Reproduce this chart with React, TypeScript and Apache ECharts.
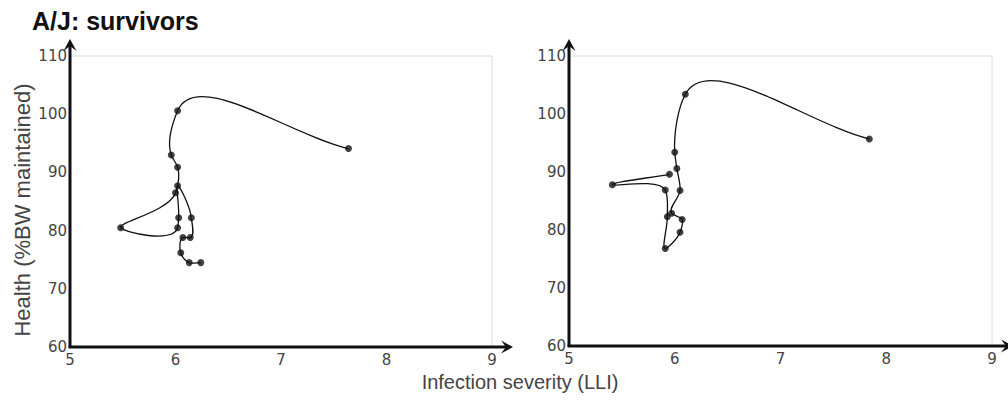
import React, { useEffect, useRef } from "react";
import * as echarts from "echarts";

const TITLE = "A/J: survivors";
const X_TITLE = "Infection severity (LLI)";
const Y_TITLE = "Health (%BW maintained)";
const X_MIN = 5;
const X_MAX = 9;
const X_STEP = 1;
const Y_MIN = 60;
const Y_MAX = 110;
const Y_STEP = 10;

// Panel 1 trajectory (in drawing order)
const leftLLI = [7.64, 6.02, 5.96, 6.02, 6.0, 5.48, 6.02, 6.03, 6.02, 6.15, 6.14, 6.07, 6.05, 6.13, 6.24];
const leftHealth = [94.1, 100.6, 93.0, 90.9, 86.5, 80.5, 80.5, 82.2, 87.7, 82.2, 78.8, 78.8, 76.2, 74.5, 74.5];

// Panel 2 trajectory (in drawing order)
const rightLLI = [7.84, 6.1, 6.0, 6.02, 6.05, 5.97, 6.07, 6.05, 5.91, 5.93, 5.91, 5.41, 5.95];
const rightHealth = [95.7, 103.4, 93.4, 90.6, 86.8, 82.9, 81.8, 79.6, 76.8, 82.3, 86.9, 87.8, 89.6];

const INK = "#111";
const LABEL = "#444";

function zip(xs: number[], ys: number[]) {
  return xs.map((x, i) => [x, ys[i]]);
}

function makeRenderItem(points: number[][]) {
  return (params: any, api: any) => {
    const i = params.dataIndex;
    if (i >= points.length - 1) return { type: "group", children: [] };
    const P = points.map((p) => api.coord(p) as number[]);
    const n = P.length;
    const dist = (a: number[], b: number[]) => Math.hypot(b[0] - a[0], b[1] - a[1]) || 1e-6;
    const tangent = (k: number) => {
      if (k === 0) {
        const d = dist(P[0], P[1]);
        return [(P[1][0] - P[0][0]) / d, (P[1][1] - P[0][1]) / d];
      }
      if (k === n - 1) {
        const d = dist(P[n - 2], P[n - 1]);
        return [(P[n - 1][0] - P[n - 2][0]) / d, (P[n - 1][1] - P[n - 2][1]) / d];
      }
      const d0 = dist(P[k - 1], P[k]);
      const d1 = dist(P[k], P[k + 1]);
      const ax = (P[k][0] - P[k - 1][0]) / d0;
      const ay = (P[k][1] - P[k - 1][1]) / d0;
      const bx = (P[k + 1][0] - P[k][0]) / d1;
      const by = (P[k + 1][1] - P[k][1]) / d1;
      return [(ax * d1 + bx * d0) / (d0 + d1), (ay * d1 + by * d0) / (d0 + d1)];
    };
    const a = P[i];
    const b = P[i + 1];
    const h = dist(a, b) / 3;
    const ta = tangent(i);
    const tb = tangent(i + 1);
    return {
      type: "bezierCurve",
      shape: {
        x1: a[0],
        y1: a[1],
        x2: b[0],
        y2: b[1],
        cpx1: a[0] + ta[0] * h,
        cpy1: a[1] + ta[1] * h,
        cpx2: b[0] - tb[0] * h,
        cpy2: b[1] - tb[1] * h,
      },
      style: { stroke: INK, lineWidth: 1.3, fill: null },
      silent: true,
    };
  };
}

function axisPair(gridIndex: number) {
  const common = {
    gridIndex,
    type: "value" as const,
    axisLine: { show: false },
    axisTick: { show: false },
    splitLine: { show: false },
  };
  return {
    x: {
      ...common,
      min: X_MIN,
      max: X_MAX,
      interval: X_STEP,
      axisLabel: { color: LABEL, fontSize: 15, fontFamily: "DejaVu Sans", margin: 5 },
    },
    y: {
      ...common,
      min: Y_MIN,
      max: Y_MAX,
      interval: Y_STEP,
      axisLabel: { color: LABEL, fontSize: 15, fontFamily: "DejaVu Sans", margin: 3 },
    },
  };
}

export default function App() {
  const ref = useRef<HTMLDivElement>(null);
  useEffect(() => {
    document.body.style.margin = "0";
    const chart = echarts.init(ref.current!, undefined, { renderer: "svg" });
    const a0 = axisPair(0);
    const a1 = axisPair(1);
    const leftPts = zip(leftLLI, leftHealth);
    const rightPts = zip(rightLLI, rightHealth);
    chart.setOption({
      animation: false,
      backgroundColor: "#fff",
      grid: [
        { left: 70, top: 56, width: 422, height: 291, show: true, borderColor: "#dcdcdc", borderWidth: 1 },
        { left: 569, top: 56, width: 423, height: 290, show: true, borderColor: "#dcdcdc", borderWidth: 1 },
      ],
      xAxis: [a0.x, a1.x],
      yAxis: [a0.y, a1.y],
      series: [
        {
          type: "custom",
          xAxisIndex: 0,
          yAxisIndex: 0,
          data: leftPts,
          renderItem: makeRenderItem(leftPts),
          z: 2,
        },
        {
          type: "custom",
          xAxisIndex: 1,
          yAxisIndex: 1,
          data: rightPts,
          renderItem: makeRenderItem(rightPts),
          z: 2,
        },
        {
          type: "scatter",
          xAxisIndex: 0,
          yAxisIndex: 0,
          data: leftPts,
          symbolSize: 7,
          itemStyle: { color: INK },
          z: 3,
        },
        {
          type: "scatter",
          xAxisIndex: 1,
          yAxisIndex: 1,
          data: rightPts,
          symbolSize: 7,
          itemStyle: { color: INK },
          z: 3,
        },
      ],
    });

    const elements: any[] = [];
    const arrow = (tx: number, ty: number, dir: "up" | "right") => {
      const L = 12;
      const W = 6.5;
      const N = 7;
      const pts =
        dir === "up"
          ? [[tx, ty], [tx + W, ty + L], [tx, ty + N], [tx - W, ty + L]]
          : [[tx, ty], [tx - L, ty - W], [tx - N, ty], [tx - L, ty + W]];
      return { type: "polygon", shape: { points: pts }, style: { fill: INK }, z: 10 };
    };
    [0, 1].forEach((g) => {
      const o = chart.convertToPixel({ gridIndex: g } as any, [X_MIN, Y_MIN]) as number[];
      const tr = chart.convertToPixel({ gridIndex: g } as any, [X_MAX, Y_MAX]) as number[];
      const yTip = tr[1] - 17;
      const xTip = tr[0] + 21;
      elements.push({
        type: "line",
        shape: { x1: o[0], y1: o[1], x2: o[0], y2: yTip + 4 },
        style: { stroke: INK, lineWidth: 3 },
        z: 10,
      });
      elements.push({
        type: "line",
        shape: { x1: o[0] - 1.5, y1: o[1], x2: xTip - 4, y2: o[1] },
        style: { stroke: INK, lineWidth: 3 },
        z: 10,
      });
      elements.push(arrow(o[0], yTip, "up"));
      elements.push(arrow(xTip, o[1], "right"));
    });
    elements.push({
      type: "text",
      x: 32,
      y: 21,
      style: {
        text: TITLE,
        fontSize: 25,
        fontWeight: "bold",
        fontFamily: "Liberation Sans",
        fill: "#111",
        align: "left",
        textAlign: "left",
        verticalAlign: "middle",
        textVerticalAlign: "middle",
      },
      z: 10,
    });
    elements.push({
      type: "text",
      x: 520,
      y: 382,
      style: {
        text: X_TITLE,
        fontSize: 20,
        fontFamily: "Liberation Sans",
        fill: LABEL,
        align: "center",
        textAlign: "center",
        verticalAlign: "middle",
        textVerticalAlign: "middle",
      },
      z: 10,
    });
    elements.push({
      type: "text",
      x: 22,
      y: 210,
      rotation: Math.PI / 2,
      style: {
        text: Y_TITLE,
        fontSize: 22,
        fontFamily: "Liberation Sans",
        fill: LABEL,
        align: "center",
        textAlign: "center",
        verticalAlign: "middle",
        textVerticalAlign: "middle",
      },
      z: 10,
    });
    chart.setOption({ graphic: { elements } });
    return () => chart.dispose();
  }, []);
  return (
    <div
      ref={ref}
      style={{ position: "absolute", left: 0, top: 0, width: 1008, height: 403 }}
    />
  );
}
